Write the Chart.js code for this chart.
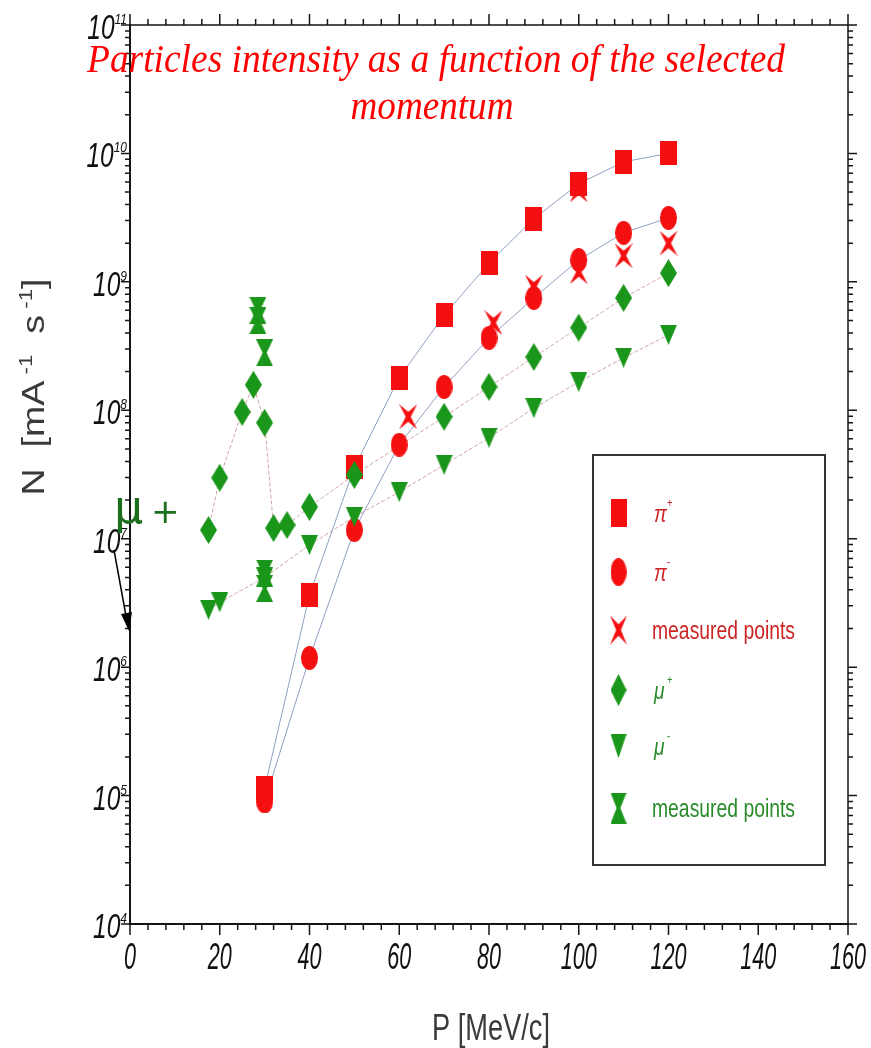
<!DOCTYPE html>
<html>
<head>
<meta charset="utf-8">
<script src="https://cdn.jsdelivr.net/npm/chart.js@4.4.0/dist/chart.umd.min.js"></script>
<style>
  html, body { margin: 0; padding: 0; background: #fff; }
  canvas { display: block; }
</style>
</head>
<body>
<canvas id="chart" width="871" height="1048"></canvas>
<script>
// momentum P (MeV/c) and intensity N (mA^-1 s^-1)
const piPlusP = [30, 40, 50, 60, 70, 80, 90, 100, 110, 120];
const piPlusN = [1.15e5, 3.65e6, 3.6e7, 1.8e8, 5.5e8, 1.4e9, 3.1e9, 5.8e9, 8.6e9, 1.0e10];
const piMinusP = [30, 40, 50, 60, 70, 80, 90, 100, 110, 120];
const piMinusN = [9e4, 1.18e6, 1.17e7, 5.4e7, 1.52e8, 3.66e8, 7.5e8, 1.48e9, 2.41e9, 3.15e9];
const piMeasP = [62, 81, 90, 100, 100, 110, 120];
const piMeasN = [8.9e7, 4.8e8, 9.1e8, 5.2e9, 1.2e9, 1.6e9, 2.0e9];
const muPlusP = [17.5, 20, 25, 27.5, 30, 32, 35, 40, 50, 70, 80, 90, 100, 110, 120];
const muPlusN = [1.17e7, 2.98e7, 9.7e7, 1.58e8, 8.0e7, 1.21e7, 1.28e7, 1.77e7, 3.14e7, 8.9e7, 1.52e8, 2.6e8, 4.4e8, 7.5e8, 1.17e9];
const muMinusP = [17.5, 20, 30, 40, 50, 60, 70, 80, 90, 100, 110, 120];
const muMinusN = [2.8e6, 3.2e6, 5.0e6, 8.96e6, 1.48e7, 2.31e7, 3.76e7, 6.1e7, 1.04e8, 1.66e8, 2.56e8, 3.87e8];
const muMeasP = [28.5, 28.5, 30, 30, 30];
const muMeasN = [6.0e8, 5.0e8, 2.8e8, 5.4e6, 4.1e6];

const xTickStep = 20;
const yDecades = [4, 5, 6, 7, 8, 9, 10, 11];
const legendLabels = ['\u03c0+', '\u03c0-', 'measured points', '\u03bc+', '\u03bc-', 'measured points'];

const RED = '#f41010';
const GREEN = '#1a961a';
const SANS = "'Liberation Sans', Arial, sans-serif";

function toPts(xs, ys) {
  return xs.map((v, i) => ({ x: v, y: ys[i] }));
}

// small canvases used as point styles
function marker(w, h, color, path) {
  const c = document.createElement('canvas');
  c.width = w; c.height = h;
  const g = c.getContext('2d');
  g.fillStyle = color;
  g.beginPath();
  path(g, w, h);
  g.fill();
  return c;
}
const mSquare = marker(17, 24, RED, (g, w, h) => g.rect(0, 0, w, h));
const mCircle = marker(17, 24, RED, (g, w, h) => g.ellipse(w / 2, h / 2, w / 2, h / 2, 0, 0, Math.PI * 2));
const mStar = marker(18, 25, RED, (g, w, h) => {
  g.moveTo(0, 0); g.lineTo(w / 2, h * 0.3); g.lineTo(w, 0); g.lineTo(w * 0.64, h / 2);
  g.lineTo(w, h); g.lineTo(w / 2, h * 0.7); g.lineTo(0, h); g.lineTo(w * 0.36, h / 2);
  g.closePath();
});
const mDiamond = marker(17, 28, GREEN, (g, w, h) => {
  g.moveTo(w / 2, 0); g.lineTo(w, h / 2); g.lineTo(w / 2, h); g.lineTo(0, h / 2); g.closePath();
});
const mTriangle = marker(17, 20, GREEN, (g, w, h) => {
  g.moveTo(0, 0); g.lineTo(w, 0); g.lineTo(w / 2, h); g.closePath();
});
const mHourglass = marker(17, 27, GREEN, (g, w, h) => {
  g.moveTo(0, 0); g.lineTo(w, 0); g.lineTo(w / 2 + 2, h / 2); g.lineTo(w, h);
  g.lineTo(0, h); g.lineTo(w / 2 - 2, h / 2); g.closePath();
});
const legendMarkers = [mSquare, mCircle, mStar, mDiamond, mTriangle, mHourglass];

function lineSet(xs, ys, color, dash) {
  return {
    data: toPts(xs, ys), showLine: true, pointRadius: 0, borderColor: color,
    borderWidth: 1, borderDash: dash, order: 20
  };
}
function pointSet(xs, ys, style, order) {
  return {
    data: toPts(xs, ys), showLine: false, pointStyle: style, pointRadius: 10, order: order
  };
}

// text squeezed horizontally by sx; align is 'left', 'center' or 'right'
function narrowText(ctx, text, x, y, font, sx, align) {
  ctx.font = font;
  const w = ctx.measureText(text).width * sx;
  const x0 = align === 'right' ? x - w : align === 'center' ? x - w / 2 : x;
  ctx.save();
  ctx.translate(x0, y);
  ctx.scale(sx, 1);
  ctx.textAlign = 'left';
  ctx.fillText(text, 0, 0);
  ctx.restore();
  return w;
}
function fitText(ctx, text, x, y, font, width, align) {
  ctx.font = font;
  return narrowText(ctx, text, x, y, font, width / ctx.measureText(text).width, align);
}

const decorations = {
  id: 'decorations',
  afterDraw(chart) {
    const { ctx, chartArea: a } = chart;
    const xs = chart.scales.x, ys = chart.scales.y;
    ctx.save();
    ctx.textBaseline = 'alphabetic';

    // top and right frame, outward ticks on all four sides
    ctx.strokeStyle = '#151515';
    ctx.lineWidth = 1.5;
    ctx.beginPath();
    ctx.moveTo(a.left, a.top); ctx.lineTo(a.right, a.top); ctx.lineTo(a.right, a.bottom);
    for (let v = xs.min; v <= xs.max; v += xTickStep / 5) {
      const px = xs.getPixelForValue(v);
      const len = v % xTickStep === 0 ? 11 : 6;
      ctx.moveTo(px, a.bottom); ctx.lineTo(px, a.bottom + len);
      ctx.moveTo(px, a.top); ctx.lineTo(px, a.top - len);
    }
    yDecades.forEach(k => {
      for (let m = 1; m <= 9; m++) {
        const v = m * Math.pow(10, k);
        if (v > ys.max) break;
        const py = ys.getPixelForValue(v);
        const len = m === 1 ? 9 : 5;
        ctx.moveTo(a.left, py); ctx.lineTo(a.left - len, py);
        ctx.moveTo(a.right, py); ctx.lineTo(a.right + len, py);
      }
    });
    ctx.stroke();

    // tick labels
    ctx.fillStyle = '#111';
    xs.ticks.forEach(t => {
      narrowText(ctx, String(t.value), xs.getPixelForValue(t.value), 969, 'italic 36px ' + SANS, 0.6, 'center');
    });
    yDecades.forEach(k => {
      const py = ys.getPixelForValue(Math.pow(10, k));
      ctx.font = 'italic 15px ' + SANS;
      const we = ctx.measureText(String(k)).width * 0.8;
      narrowText(ctx, String(k), a.left - 3, py - 1, 'italic 15px ' + SANS, 0.8, 'right');
      narrowText(ctx, '10', a.left - 3 - we, py + 14, 'italic 35px ' + SANS, 0.7, 'right');
    });

    // axis titles
    ctx.fillStyle = '#3a3a3a';
    fitText(ctx, 'P [MeV/c]', 491, 1040, '36px ' + SANS, 118, 'center');

    ctx.save();
    ctx.translate(44, 387);
    ctx.rotate(-Math.PI / 2);
    const runs = [['N  [mA', 0, 32], [' -1', -12, 19], ['  s', 0, 32], [' -1', -12, 19], [']', 0, 32]];
    let total = 0;
    runs.forEach(r => { ctx.font = r[2] + 'px ' + SANS; total += ctx.measureText(r[0]).width; });
    const sx = 217 / total;
    ctx.scale(sx, 1);
    let cx = -total / 2;
    ctx.textAlign = 'left';
    runs.forEach(r => {
      ctx.font = r[2] + 'px ' + SANS;
      ctx.fillText(r[0], cx, r[1]);
      cx += ctx.measureText(r[0]).width;
    });
    ctx.restore();

    // title
    ctx.fillStyle = '#ff0000';
    const tfont = "italic 40px 'Liberation Serif', serif";
    fitText(ctx, 'Particles intensity as a function of the selected', 436, 72, tfont, 698, 'center');
    fitText(ctx, 'momentum', 432, 119, tfont, 163, 'center');

    // legend box
    const lx = 593, ly = 455, lw = 232, lh = 410;
    ctx.fillStyle = '#fff';
    ctx.fillRect(lx, ly, lw, lh);
    ctx.strokeStyle = '#333';
    ctx.lineWidth = 2;
    ctx.strokeRect(lx, ly, lw, lh);
    const rowY = [513, 572, 630, 690, 746, 808];
    legendMarkers.forEach((m, i) => {
      ctx.drawImage(m, 619 - m.width / 2, rowY[i] - m.height / 2 - 2, m.width - 1, m.height + 4);
      ctx.fillStyle = i < 3 ? '#cc2626' : '#2a8c2a';
      const lab = legendLabels[i];
      if (lab === 'measured points') {
        fitText(ctx, lab, 652, rowY[i] + 9, '25px ' + SANS, 143, 'left');
      } else {
        narrowText(ctx, lab[0], 654, rowY[i] + 9, 'italic 24px ' + SANS, 0.8, 'left');
        narrowText(ctx, lab[1], 667, rowY[i] - 6, '12px ' + SANS, 0.8, 'left');
      }
    });

    // mu+ annotation with arrow
    ctx.fillStyle = '#1b6f1b';
    ctx.font = "46px 'DejaVu Sans', sans-serif";
    ctx.textAlign = 'left';
    ctx.fillText('\u03bc', 114, 523);
    ctx.font = "34px 'DejaVu Sans', sans-serif";
    ctx.fillText('+', 151, 523);
    ctx.strokeStyle = '#000';
    ctx.fillStyle = '#000';
    ctx.lineWidth = 1.5;
    ctx.beginPath();
    ctx.moveTo(114, 550); ctx.lineTo(126, 616);
    ctx.stroke();
    ctx.beginPath();
    ctx.moveTo(129, 631); ctx.lineTo(121, 614); ctx.lineTo(132, 612); ctx.closePath();
    ctx.fill();

    ctx.restore();
  }
};

new Chart(document.getElementById('chart'), {
  type: 'scatter',
  data: {
    datasets: [
      lineSet(piPlusP, piPlusN, '#8fa0c4', []),
      lineSet(piMinusP, piMinusN, '#8fa0c4', []),
      lineSet(muPlusP, muPlusN, '#d2a6a6', [4, 2]),
      lineSet(muMinusP, muMinusN, '#d2a6a6', [4, 2]),
      pointSet(piMeasP, piMeasN, mStar, 7),
      pointSet(piPlusP, piPlusN, mSquare, 6),
      pointSet(piMinusP, piMinusN, mCircle, 5),
      pointSet(muPlusP, muPlusN, mDiamond, 4),
      pointSet(muMinusP, muMinusN, mTriangle, 3),
      pointSet(muMeasP, muMeasN, mHourglass, 2)
    ]
  },
  options: {
    responsive: false,
    animation: false,
    layout: { padding: { top: 25, right: 23, left: 0, bottom: 0 } },
    plugins: { legend: { display: false }, tooltip: { enabled: false } },
    scales: {
      x: {
        type: 'linear', min: 0, max: 160,
        afterFit: s => { s.height = 124; },
        ticks: { stepSize: xTickStep, display: false },
        grid: { display: false },
        border: { display: true, color: '#151515', width: 2 }
      },
      y: {
        type: 'logarithmic', min: 1e4, max: 1e11,
        afterFit: s => { s.width = 130; },
        ticks: { display: false },
        grid: { display: false },
        border: { display: true, color: '#151515', width: 2 }
      }
    }
  },
  plugins: [decorations]
});
</script>
</body>
</html>
